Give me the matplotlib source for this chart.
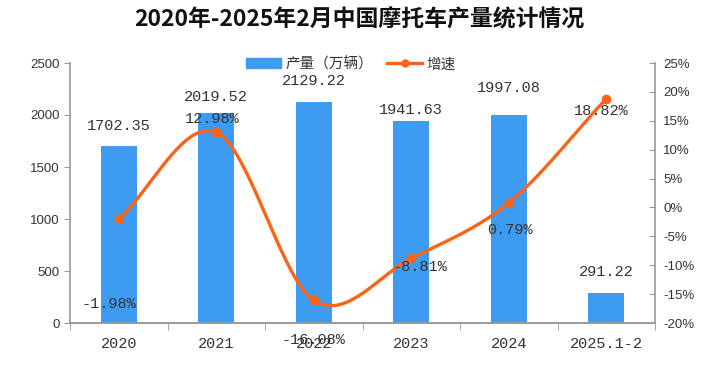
import numpy as np
import matplotlib.pyplot as plt
from matplotlib.lines import Line2D
from matplotlib.patches import Patch

plt.rcParams['font.family'] = ['Noto Sans CJK SC', 'DejaVu Sans']

years = ["2020", "2021", "2022", "2023", "2024", "2025.1-2"]
output = [1702.35, 2019.52, 2129.22, 1941.63, 1997.08, 291.22]
growth = [-1.98, 12.98, -16.08, -8.81, 0.79, 18.82]

bar_color = "#3d9bf2"
line_color = "#fa6419"
text_color = "#333333"
mono = "Liberation Mono"


def smooth(xs, ys, n=40):
    # catmull-rom through the points, like the smoothed line in excel
    xs = np.asarray(xs, float)
    ys = np.asarray(ys, float)
    px = np.concatenate([[2 * xs[0] - xs[1]], xs, [2 * xs[-1] - xs[-2]]])
    py = np.concatenate([[2 * ys[0] - ys[1]], ys, [2 * ys[-1] - ys[-2]]])
    outx, outy = [], []
    t = np.linspace(0, 1, n)
    for i in range(1, len(px) - 2):
        for p, out in ((px, outx), (py, outy)):
            p0, p1, p2, p3 = p[i - 1], p[i], p[i + 1], p[i + 2]
            out.extend(0.5 * (2 * p1 + (-p0 + p2) * t
                              + (2 * p0 - 5 * p1 + 4 * p2 - p3) * t ** 2
                              + (-p0 + 3 * p1 - 3 * p2 + p3) * t ** 3))
    return np.array(outx), np.array(outy)


fig = plt.figure(figsize=(7.18, 3.67), dpi=100)
ax = fig.add_axes([70 / 718, 1 - 323 / 367, 585 / 718, 260 / 367])
ax2 = ax.twinx()

x = np.arange(len(years))
ax.bar(x, output, width=0.37, color=bar_color, zorder=2)
ax.set_xlim(-0.5, len(years) - 0.5)
ax.set_ylim(0, 2500)
ax.set_yticks(np.arange(0, 2501, 500))
ax.set_xticks(x)
ax.set_xticklabels(years, fontfamily=mono, fontsize=11, color=text_color)
ax.set_xticks(np.arange(-0.5, len(years), 1), minor=True)
ax.tick_params(axis="x", which="major", length=0, pad=10)
ax.tick_params(axis="x", which="minor", length=5, color="#999999", direction="out")
ax.tick_params(axis="y", length=4, color="#999999", labelsize=9.5, labelcolor=text_color)
for lab in ax.get_yticklabels():
    lab.set_fontfamily("Liberation Sans")

sx, sy = smooth(x, growth)
ax2.plot(sx, sy, color=line_color, lw=2.4, zorder=3)
ax2.plot(x, growth, "o", color=line_color, ms=6, zorder=4)
ax2.set_ylim(-20, 25)
ax2.set_yticks(np.arange(-20, 26, 5))
ax2.set_yticklabels([f"{v}%" for v in range(-20, 26, 5)])
ax2.tick_params(axis="y", length=4, color="#999999", direction="in", pad=6,
                labelsize=9.5, labelcolor=text_color)
for lab in ax2.get_yticklabels():
    lab.set_fontfamily("Liberation Sans")

for a in (ax, ax2):
    a.spines["top"].set_visible(False)
    for s in ("left", "right", "bottom"):
        a.spines[s].set_color("#999999")
        a.spines[s].set_linewidth(1.2)
ax2.spines["left"].set_visible(False)
ax.spines["right"].set_visible(False)

# bar value labels (offsets in pixels above the bar top)
bar_off = [20, 16, 21, 11, 27, 21]
for xi, v, off in zip(x, output, bar_off):
    ax.annotate(f"{v:.2f}", (xi, v), xytext=(0, off * 0.72), textcoords="offset points",
                ha="center", va="center", fontfamily=mono, fontsize=11, color=text_color)

# growth labels (offsets in pixels from the point)
pct_off = [(-10, -85), (-4, 13), (0, -40), (9, -9), (1, -27), (-5, -12)]
for xi, g, (dx, dy) in zip(x, growth, pct_off):
    ax2.annotate(f"{g:.2f}%", (xi, g), xytext=(dx * 0.72, dy * 0.72), textcoords="offset points",
                 ha="center", va="center", fontfamily=mono, fontsize=11, color=text_color,
                 zorder=5)

handles = [Patch(color=bar_color),
           Line2D([], [], color=line_color, lw=2.4, marker="o", ms=5)]
ax.legend(handles, ["产量（万辆）", "增速"], loc="center", bbox_to_anchor=(0.48, 0.995),
          ncol=2, frameon=False, fontsize=10.5, handlelength=2.4, columnspacing=1.0,
          handletextpad=0.3, labelcolor=text_color)

fig.text(0.5, 1 - 20 / 367, "2020年-2025年2月中国摩托车产量统计情况", ha="center", va="center",
         fontsize=16.5, fontweight="bold", color="#111111")

fig.savefig("out.png", dpi=100)
